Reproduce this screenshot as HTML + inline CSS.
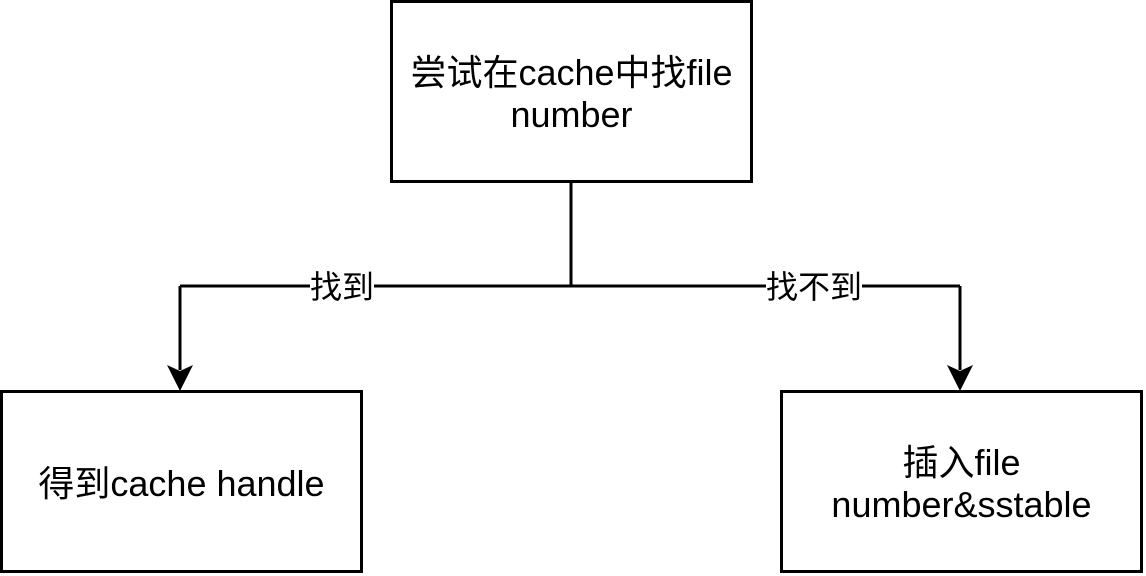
<!DOCTYPE html>
<html><head><meta charset="utf-8"><style>
body{margin:0;width:1146px;height:576px;background:#fff;overflow:hidden;position:relative;font-family:"Liberation Sans","Noto Sans CJK SC",sans-serif;}
.box{position:absolute;box-sizing:border-box;border:3px solid #000;display:flex;align-items:center;justify-content:center;text-align:center;font-size:36px;line-height:42px;color:#000;background:#fff;padding-top:4px;}
.lbl{position:absolute;background:#fff;font-size:32px;line-height:36px;top:269px;}
</style></head><body>
<svg width="1146" height="576" style="position:absolute;left:0;top:0">
<path d="M571 181 V286 M180 286 H960 M180 286 V370 M960 286 V370" stroke="#000" stroke-width="3" fill="none"/>
<path d="M167 365 L180 391 L193 365 L180 371 Z" fill="#000"/>
<path d="M947 365 L960 391 L973 365 L960 371 Z" fill="#000"/>
</svg>
<div class="box" style="left:390px;top:0;width:363px;height:183px;">尝试在cache中找file<br>number</div>
<div class="box" style="left:0;top:390px;width:363px;height:183px;">得到cache handle</div>
<div class="box" style="left:780px;top:390px;width:363px;height:183px;">插入file<br>number&amp;sstable</div>
<div class="lbl" style="left:310px;">找到</div>
<div class="lbl" style="left:766px;">找不到</div>
</body></html>
